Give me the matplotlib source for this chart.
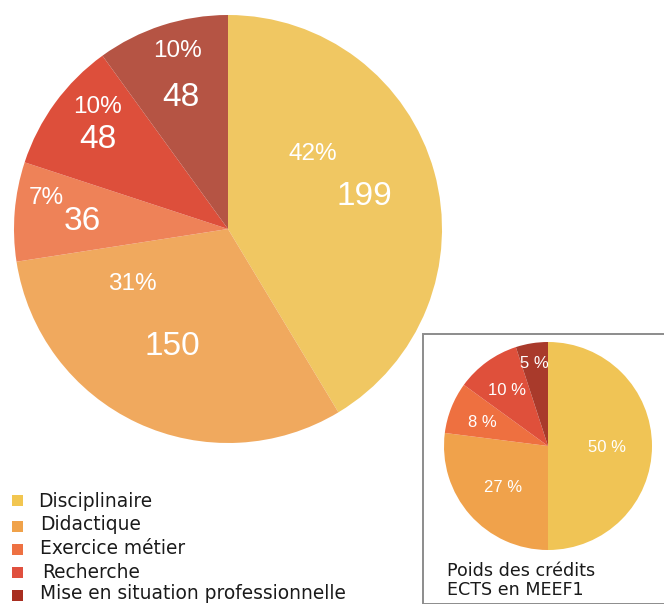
import matplotlib
matplotlib.use("Agg")
import matplotlib.pyplot as plt
from matplotlib.patches import Rectangle

# ---- data ----
categories = ["Disciplinaire", "Didactique", "Exercice métier", "Recherche",
              "Mise en situation professionnelle"]
heures = [199, 150, 36, 48, 48]
heures_pct = ["42%", "31%", "7%", "10%", "10%"]
ects_pct = [50, 27, 8, 10, 5]
ects_labels = ["50 %", "27 %", "8 %", "10 %", "5 %"]
caption_lines = ["Poids des crédits", "ECTS en MEEF1"]

# ---- styles ----
main_colors = ["#F0C762", "#F0A95E", "#EE8258", "#DD4F3B", "#B55444"]
small_colors = ["#F0C455", "#F0A24B", "#EE7040", "#DF503B", "#A93A2B"]
legend_colors = ["#F2C650", "#F0A24A", "#EE7142", "#E0503E", "#A82E20"]

# label positions (x centre, y baseline) in units of radius, relative to pie centre
pct_pos = [(0.397, 0.322), (-0.449, -0.285), (-0.850, 0.117), (-0.612, 0.542), (-0.238, 0.804)]
val_pos = [(0.636, 0.112), (-0.262, -0.589), (-0.682, -0.005), (-0.607, 0.379), (-0.220, 0.575)]
small_pos = [(0.567, -0.058), (-0.433, -0.442), (-0.635, 0.183), (-0.394, 0.490), (-0.135, 0.75)]

W, H = 664, 604
fig = plt.figure(figsize=(W / 100, H / 100), dpi=100)
fig.patch.set_facecolor("white")

label_font = "Liberation Sans"
text_font = "DejaVu Sans"


def axes_at(cx, cy, r):
    return fig.add_axes([(cx - r) / W, (H - cy - r) / H, 2 * r / W, 2 * r / H])


# main pie
ax = axes_at(228, 229, 214)
ax.pie(heures, colors=main_colors, startangle=90, counterclock=False,
       radius=1, wedgeprops=dict(linewidth=0))
ax.set_xlim(-1, 1)
ax.set_ylim(-1, 1)
ax.set_aspect("equal")
ax.axis("off")
for (px, py), s in zip(pct_pos, heures_pct):
    ax.text(px, py, s, ha="center", va="baseline", color="white",
            fontsize=17.5, family=label_font)
for (px, py), v in zip(val_pos, heures):
    ax.text(px, py, str(v), ha="center", va="baseline", color="white",
            fontsize=24, family=label_font)

# inset box
fig.patches.append(Rectangle((423 / W, 0), 1, (H - 334) / H, transform=fig.transFigure,
                             facecolor="none", edgecolor="#8c8c8c", linewidth=1.4))

# small pie
ax2 = axes_at(548, 446, 104)
ax2.pie(ects_pct, colors=small_colors, startangle=90, counterclock=False,
        radius=1, wedgeprops=dict(linewidth=0))
ax2.set_xlim(-1, 1)
ax2.set_ylim(-1, 1)
ax2.set_aspect("equal")
ax2.axis("off")
for (px, py), s in zip(small_pos, ects_labels):
    ax2.text(px, py, s, ha="center", va="baseline", color="white",
             fontsize=12, family=label_font)

for line, yb in zip(caption_lines, [576, 595]):
    fig.text(447 / W, 1 - yb / H, line, ha="left", va="baseline", color="#1a1a1a",
             fontsize=12.6, family=text_font)

# legend
leg_y = [500, 526, 549, 572, 595]
leg_base = [507, 530, 554, 578, 599]
leg_tx = [38, 40, 40.5, 42, 40.5]
for c, y, yb, tx, lab in zip(legend_colors, leg_y, leg_base, leg_tx, categories):
    fig.patches.append(Rectangle((12 / W, 1 - (y + 6) / H), 11 / W, 11 / H,
                                 transform=fig.transFigure, facecolor=c, edgecolor="none"))
    fig.text(tx / W, 1 - yb / H, lab, ha="left", va="baseline", color="#1a1a1a",
             fontsize=13.4, family=text_font)

fig.savefig("out.png", dpi=100)
